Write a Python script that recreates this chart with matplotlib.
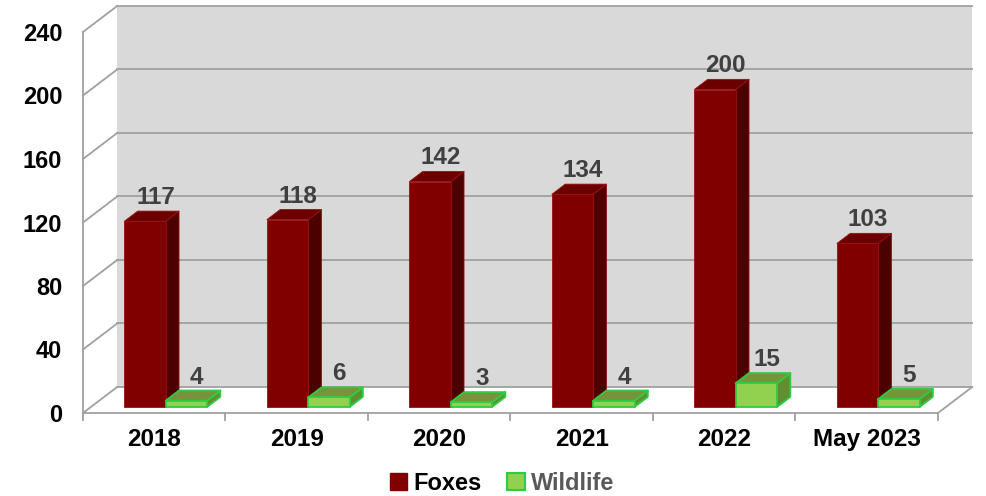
import matplotlib
matplotlib.use("Agg")
import matplotlib.pyplot as plt
from matplotlib.patches import Polygon, Patch

plt.rcParams["font.family"] = ["Liberation Sans", "DejaVu Sans"]
plt.rcParams["font.weight"] = "bold"

# data
categories = ["2018", "2019", "2020", "2021", "2022", "May 2023"]
foxes = [117, 118, 142, 134, 200, 103]
wildlife = [4, 6, 3, 4, 15, 5]
y_ticks = [0, 40, 80, 120, 160, 200, 240]

# oblique depth of the whole plot box, in data units
DX = 0.24
DY = 16.4
# bar depth range (fraction of box depth)
F0, F1 = 0.23, 0.62

GRID = "#a0a0a0"
WALL = "#d9d9d9"
LABEL = "#404040"


def pt(x, y, f):
    """Shift a front-plane point back by depth fraction f."""
    return (x + f * DX, y + f * DY)


def bar3d(ax, x0, width, h, front, side, top, edge, lw):
    x1 = x0 + width
    faces = [
        ([pt(x1, 0, F0), pt(x1, 0, F1), pt(x1, h, F1), pt(x1, h, F0)], side),
        ([pt(x0, h, F0), pt(x1, h, F0), pt(x1, h, F1), pt(x0, h, F1)], top),
        ([pt(x0, 0, F0), pt(x1, 0, F0), pt(x1, h, F0), pt(x0, h, F0)], front),
    ]
    for verts, color in faces:
        ax.add_patch(Polygon(verts, closed=True, facecolor=color, edgecolor=edge,
                             linewidth=lw, joinstyle="round", clip_on=False, zorder=3))


fig = plt.figure(figsize=(9.87, 4.96), dpi=100)
ax = fig.add_axes([83 / 987, 83 / 496, 855 / 987, 381 / 496])
n = len(categories)
ax.set_xlim(0, n)
ax.set_ylim(0, 240)
ax.patch.set_visible(False)
for s in ax.spines.values():
    s.set_visible(False)

# back wall
ax.add_patch(Polygon([pt(0, 0, 1), pt(n, 0, 1), pt(n, 240, 1), pt(0, 240, 1)],
                     closed=True, facecolor=WALL, edgecolor="none", zorder=0, clip_on=False))
# floor
ax.add_patch(Polygon([pt(0, 0, 0), pt(n, 0, 0), pt(n, 0, 1), pt(0, 0, 1)],
                     closed=True, facecolor="white", edgecolor="none", zorder=0, clip_on=False))

# gridlines on back wall and side wall
for v in y_ticks:
    bx0, by = pt(0, v, 1)
    bx1, _ = pt(n, v, 1)
    ax.plot([bx0, bx1], [by, by], color=GRID, lw=1.3, zorder=1, clip_on=False)
    ax.plot([0, bx0], [v, by], color=GRID, lw=1.3, zorder=1, clip_on=False)

# front axis lines and floor edges
ax.plot([0, 0], [0, 240], color=GRID, lw=1.3, zorder=1, clip_on=False)
ax.plot([0, n], [0, 0], color=GRID, lw=1.3, zorder=1, clip_on=False)
rx, ry = pt(n, 0, 1)
ax.plot([n, rx], [0, ry], color=GRID, lw=1.3, zorder=1, clip_on=False)

# bars
for i in range(n):
    bar3d(ax, i + 0.235, 0.29, foxes[i], "#800000", "#4c0000", "#6a0000", "#9a1010", 0.6)
    bar3d(ax, i + 0.525, 0.29, wildlife[i], "#92d050", "#5f8f2f", "#77933c", "#2ecc40", 1.3)

# value labels
for i in range(n):
    for x0, h in ((i + 0.235, foxes[i]), (i + 0.525, wildlife[i])):
        lx, ly = pt(x0 + 0.145, h, F1)
        ax.annotate(str(h), (lx - 0.02, ly), xytext=(0, 5), textcoords="offset points",
                    ha="center", va="baseline", fontsize=17.5, fontweight="bold",
                    color=LABEL, zorder=5, annotation_clip=False)

# ticks
ax.set_yticks(y_ticks)
ax.set_yticklabels([str(v) for v in y_ticks])
ax.set_xticks([i + 0.5 for i in range(n)])
ax.set_xticklabels(categories)
ax.set_xticks(range(n + 1), minor=True)
ax.tick_params(axis="y", length=0, pad=15, labelsize=17)
ax.tick_params(axis="x", which="major", length=0, pad=11, labelsize=17.5)
ax.tick_params(axis="x", which="minor", length=6, width=1.3, color=GRID)
for lbl in ax.get_xticklabels() + ax.get_yticklabels():
    lbl.set_fontweight("bold")

# legend
handles = [Patch(facecolor="#800000", edgecolor="#800000"),
           Patch(facecolor="#92d050", edgecolor="#2ecc40", linewidth=1.5)]
leg = fig.legend(handles, ["Foxes", "Wildlife"], loc="center",
                 bbox_to_anchor=(502 / 987, 13 / 496), ncol=2, frameon=False,
                 handlelength=0.75, handleheight=0.75, handletextpad=0.25,
                 columnspacing=1.1, prop={"size": 17, "weight": "bold"})
leg.get_texts()[1].set_color("#595959")

fig.savefig("out.png", dpi=100)
